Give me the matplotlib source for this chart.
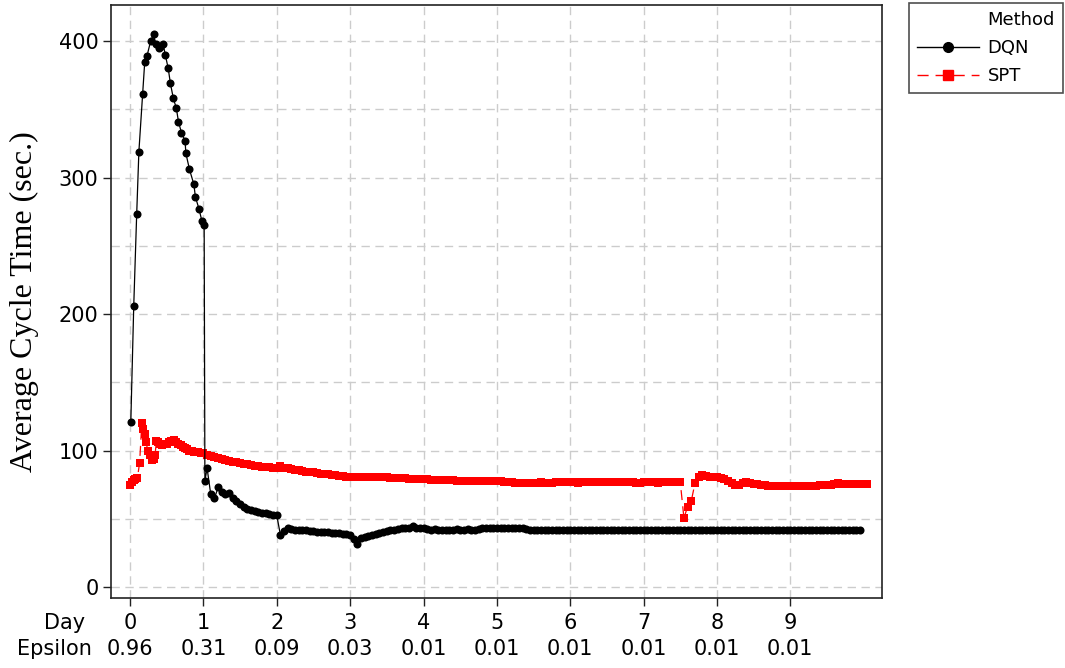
import numpy as np
import matplotlib
matplotlib.use("Agg")
import matplotlib.pyplot as plt
from matplotlib.lines import Line2D
from matplotlib.ticker import MultipleLocator
import matplotlib.transforms as mtransforms

# ---------------- data ----------------
day_ticks = [0, 1, 2, 3, 4, 5, 6, 7, 8, 9]
epsilon_labels = ["0.96", "0.31", "0.09", "0.03", "0.01", "0.01", "0.01", "0.01", "0.01", "0.01"]

# DQN - early (sparse) part
dqn_days_early = [0.01, 0.05, 0.09, 0.12, 0.17, 0.20, 0.23, 0.28, 0.32, 0.35, 0.39, 0.41, 0.45,
                  0.48, 0.52, 0.55, 0.59, 0.63, 0.66, 0.70, 0.75, 0.76, 0.81, 0.87, 0.89, 0.94,
                  0.98, 1.01, 1.02]
dqn_vals_early = [121, 206, 273, 319, 361, 385, 389, 400, 405, 398, 395, 396, 398,
                  390, 380, 369, 358, 351, 341, 333, 327, 318, 306, 295, 286, 277,
                  268, 265, 78]
# DQN - dense part, sampled every 0.05 day from 1.05 to 9.95
dqn_dense_start, dqn_dense_step = 1.05, 0.05
dqn_vals_dense = [
    87, 68, 65, 73, 70, 68, 69, 65, 63, 61,            # 1.05 - 1.50
    59, 57.5, 56.5, 55.5, 55, 54.5, 54, 53.5, 53, 52.5,  # 1.55 - 2.00
    38, 41, 43, 42.5, 42, 42, 41.5, 41.5, 41, 41,       # 2.05 - 2.50
    40.5, 40.5, 40, 40, 39.5, 39.5, 39.5, 39, 39, 38,   # 2.55 - 3.00
    35, 31.5, 36, 37, 37.5, 38.5, 39, 39.5, 40, 41,     # 3.05 - 3.50
    41.5, 42, 42.5, 43, 43, 43.5, 44.5, 43.5, 43, 43,   # 3.55 - 4.00
    42.5, 42, 42.5, 42, 42, 42, 41.5, 42, 42.5, 41.5,   # 4.05 - 4.50
    42, 42.5, 42, 42, 42.5, 43, 43, 43, 43, 43,         # 4.55 - 5.00
    43, 43, 43, 43, 43, 43, 43, 42.5, 42, 42,           # 5.05 - 5.50
    42, 42, 42, 42, 42, 42, 42, 42, 42, 42,             # 5.55 - 6.00
    42, 42, 42, 42, 42, 42, 42, 42, 42, 42,             # 6.05 - 6.50
    42, 42, 42, 42, 42, 42, 42, 42, 42, 41.5,           # 6.55 - 7.00
    41.5, 41.5, 41.5, 41.5, 41.5, 41.5, 41.5, 41.5, 41.5, 41.5,  # 7.05 - 7.50
    41.5, 41.5, 41.5, 41.5, 41.5, 41.5, 41.5, 41.5, 41.5, 41.5,  # 7.55 - 8.00
    41.5, 41.5, 41.5, 41.5, 41.5, 41.5, 41.5, 41.5, 41.5, 41.5,  # 8.05 - 8.50
    41.5, 41.5, 41.5, 41.5, 41.5, 41.5, 41.5, 41.5, 41.5, 41.5,  # 8.55 - 9.00
    41.5, 41.5, 41.5, 41.5, 41.5, 41.5, 41.5, 41.5, 41.5, 41.5,  # 9.05 - 9.50
    41.5, 41.5, 41.5, 41.5, 41.5, 41.5, 41.5, 41.5, 41.5,        # 9.55 - 9.95
]

# SPT - early (sparse) part
spt_days_early = [0.00, 0.02, 0.05, 0.07, 0.10, 0.13, 0.16, 0.18, 0.20, 0.22, 0.24, 0.27,
                  0.30, 0.32, 0.34, 0.36, 0.38, 0.41, 0.44, 0.47, 0.50, 0.53, 0.56, 0.60,
                  0.63, 0.66, 0.69, 0.72, 0.75, 0.78, 0.81, 0.84, 0.87, 0.90, 0.93, 0.97, 1.00]
spt_vals_early = [75, 77, 78.5, 79, 80, 91, 120, 116, 112, 106, 100, 97,
                  93, 94, 97, 107, 106, 105, 104, 105, 105, 106, 107, 107.5,
                  106, 104.5, 104, 103, 102, 101, 100, 99.5, 99, 99, 99, 98.5, 98.5]
# SPT - dense part, sampled every 0.05 day from 1.05 to 10.05
spt_dense_start, spt_dense_step = 1.05, 0.05
spt_vals_dense = [
    97, 96, 95, 94.5, 94, 93, 92.5, 92, 91.5, 91,           # 1.05 - 1.50
    90.5, 90, 89.5, 89, 88.5, 88, 88, 88, 87.5, 87.5,       # 1.55 - 2.00
    88.5, 87.5, 87, 86.5, 86, 85.5, 85, 84.5, 84, 84,       # 2.05 - 2.50
    83.5, 83, 83, 82.5, 82, 82, 81.5, 81.5, 81, 81,         # 2.55 - 3.00
    81, 81, 81, 81, 80.8, 80.8, 80.5, 80.5, 80.5, 80.5,     # 3.05 - 3.50
    80, 80, 80, 80, 80, 79.5, 79.5, 79.5, 79, 79,           # 3.55 - 4.00
    79, 78.5, 78.5, 78.5, 78.5, 78.5, 78.5, 78.5, 78, 78,   # 4.05 - 4.50
    78, 77.5, 77.5, 77.5, 77.5, 77.5, 77.5, 77.5, 77.5, 77.5,  # 4.55 - 5.00
    77.5, 77, 77, 77, 76.5, 76.5, 76.5, 76.5, 76.5, 76.5,   # 5.05 - 5.50
    76.5, 77, 76.5, 76.5, 76.5, 77, 77, 77, 77, 77,         # 5.55 - 6.00
    77, 76.5, 77, 77, 77, 77, 77, 77, 77, 77,               # 6.05 - 6.50
    77, 77, 77, 77, 77, 77, 77, 76.5, 76.5, 77,             # 6.55 - 7.00
    77, 77, 77, 76.5, 77, 77, 77, 77, 77, 77,               # 7.05 - 7.50
    50.5, 59, 63, 76, 80.5, 82, 81.5, 80.5, 81, 81,         # 7.55 - 8.00
    80, 79, 77.5, 76, 75, 74.5, 76, 77, 76.5, 75.5,         # 8.05 - 8.50
    75.5, 75, 74.5, 74, 74, 74, 74, 74, 74, 74,             # 8.55 - 9.00
    74, 74, 74, 74, 74, 74, 74, 74.5, 74.5, 75,             # 9.05 - 9.50
    75, 75.5, 76, 75.5, 75.5, 75.5, 75.5, 75.5, 75.5, 75.5, 75.5,  # 9.55 - 10.05
]

dqn_days = np.concatenate([dqn_days_early,
                           dqn_dense_start + dqn_dense_step * np.arange(len(dqn_vals_dense))])
dqn_vals = np.concatenate([dqn_vals_early, dqn_vals_dense])
spt_days = np.concatenate([spt_days_early,
                           spt_dense_start + spt_dense_step * np.arange(len(spt_vals_dense))])
spt_vals = np.concatenate([spt_vals_early, spt_vals_dense])

# ---------------- figure ----------------
W, H = 1065, 668
fig = plt.figure(figsize=(W / 100, H / 100), dpi=100)
L, R, T, B = 111, 882, 5, 598
ax = fig.add_axes([L / W, 1 - B / H, (R - L) / W, (B - T) / H])

ax.plot(dqn_days, dqn_vals, color="black", lw=0.9, marker="o", markersize=5.8,
        markeredgewidth=0, zorder=4)
ax.plot(spt_days, spt_vals, color="#ff0000", lw=0.9, linestyle=(0, (8, 5)), marker="s",
        markersize=5.8, markeredgewidth=0, zorder=3)

ax.set_xlim(-0.26, 10.25)
ax.set_ylim(-8, 426.5)

ax.set_xticks(day_ticks)
ax.set_xticklabels([str(d) for d in day_ticks])
ax.set_yticks([0, 100, 200, 300, 400])
ax.yaxis.set_minor_locator(MultipleLocator(50))
ax.tick_params(axis="both", which="major", direction="out", length=6, width=1,
               labelsize=15, colors="#222222", labelcolor="black")
ax.tick_params(axis="x", which="major", pad=5)
ax.tick_params(axis="y", which="major", pad=3)
ax.tick_params(axis="y", which="minor", length=0)

# epsilon row under the day tick labels
trans = mtransforms.blended_transform_factory(ax.transData, fig.transFigure)
for d, e in zip(day_ticks, epsilon_labels):
    ax.text(d, 1 - 649 / H, e, transform=trans, ha="center", va="center", fontsize=15)

ax.grid(True, which="major", axis="both", color="#cccccc", linestyle=(0, (6, 4)), lw=1)
ax.grid(True, which="minor", axis="y", color="#cccccc", linestyle=(0, (6, 4)), lw=1)
ax.set_axisbelow(True)

for s in ax.spines.values():
    s.set_color("#222222")
    s.set_linewidth(1.2)

fig.text(24 / W, 1 - 302 / H, "Average Cycle Time (sec.)", rotation=90,
         ha="center", va="center", family="Liberation Serif", fontsize=23)
fig.text(65 / W, 1 - 623 / H, "Day", ha="center", va="center", fontsize=15)
fig.text(54 / W, 1 - 649 / H, "Epsilon", ha="center", va="center", fontsize=15)

handles = [Line2D([], [], linestyle="none", marker=None),
           Line2D([], [], color="black", lw=1, marker="o", markersize=7),
           Line2D([], [], color="#ff0000", lw=1, linestyle=(0, (8, 5)), marker="s", markersize=7)]
labels = ["Method", "DQN", "SPT"]
leg = fig.legend(handles, labels, loc="upper left",
                 bbox_to_anchor=(909 / W, 1 - 3 / H), fontsize=13,
                 frameon=True, fancybox=False, edgecolor="#222222",
                 handlelength=3.4, handletextpad=0.5, borderpad=0.45,
                 labelspacing=0.55, borderaxespad=0)
leg.get_frame().set_linewidth(1.2)

fig.savefig("out.png", dpi=100)
